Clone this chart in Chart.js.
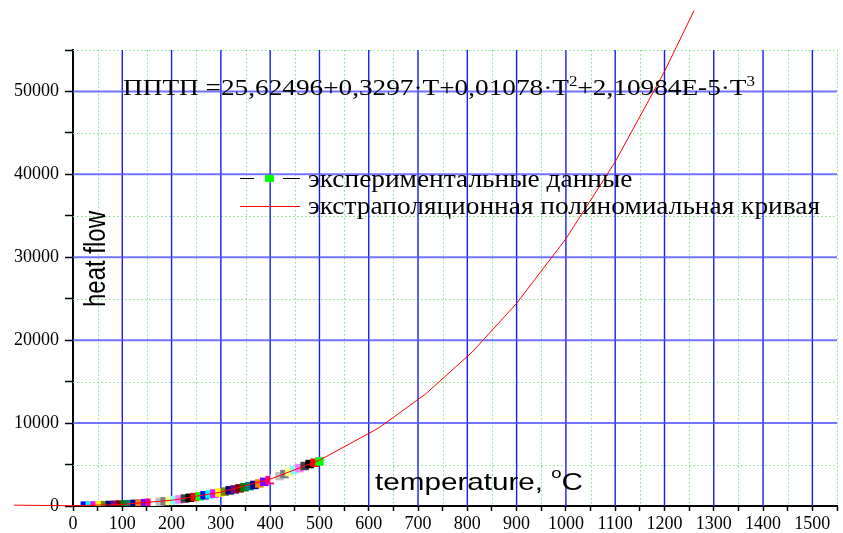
<!DOCTYPE html>
<html>
<head>
<meta charset="utf-8">
<script src="https://cdn.jsdelivr.net/npm/chart.js@4.4.1/dist/chart.umd.min.js"></script>
<style>
  html, body { margin: 0; padding: 0; background: #fff; }
</style>
</head>
<body>
<canvas id="chart" width="843" height="533"></canvas>
<script>
// experimental points
const temps = [24, 34, 44, 54, 65, 75, 85, 95, 105, 115, 125, 135, 146, 156, 166, 176,
  186, 196, 206, 216, 227, 237, 247, 257, 267, 277, 287, 297, 308, 318, 328, 338,
  348, 358, 368, 378, 388, 399, 409, 419, 429, 439, 449, 459, 470, 480, 490, 500];
const heatFlow = [40, 50, 65, 80, 100, 120, 140, 165, 195, 225, 260, 300, 345, 390, 440, 495,
  560, 630, 700, 790, 900, 990, 1080, 1160, 1290, 1400, 1500, 1620, 1740, 1890, 2000, 2130,
  2260, 2400, 2540, 2720, 2920, 3120, 3350, 3600, 3850, 4100, 4330, 4560, 4820, 5060, 5220, 5380];

// extrapolation curve
const curveT = [-120, 0, 100, 200, 300, 400, 500, 620, 715, 810, 900, 1000, 1100, 1200, 1260];
const curveQ = [105, 26, 190, 690, 1665, 3230, 5520, 9400, 13490, 18580, 24440, 32230, 41520, 52400, 59760];

const xMajor = [0, 100, 200, 300, 400, 500, 600, 700, 800, 900, 1000, 1100, 1200, 1300, 1400, 1500];
const yMajor = [0, 10000, 20000, 30000, 40000, 50000];

const legendLabels = ["экспериментальные данные", "экстраполяционная полиномиальная кривая"];
const equationParts = [["ППТП =25,62496+0,3297·T+0,01078·T", false], ["2", true],
  ["+2,10984E-5·T", false], ["3", true]];
const xTitleParts = [["temperature, ", false], ["o", true], ["C", false]];
const yTitle = "heat flow";

// Origin style colour increment
const cycle = ["#000000", "#ff0000", "#00ff00", "#0000ff", "#00ffff", "#ff00ff", "#ffff00", "#808000",
  "#000080", "#800080", "#800000", "#008000", "#008080", "#0000a0", "#ff8000", "#8000ff",
  "#ff0080", "#ffffff", "#c0c0c0", "#808080", "#ffff80", "#80ffff", "#ff80ff", "#404040"];
const pointColors = temps.map((t, i) => cycle[(i + 3) % cycle.length]);

const SERIF = "'Liberation Serif', 'Times New Roman', serif";
const SANS = "'Liberation Sans', Arial, sans-serif";

function drawParts(ctx, parts, x, base, width, size, supSize, rise, family) {
  ctx.save();
  let total = 0;
  parts.forEach(p => {
    ctx.font = (p[1] ? supSize : size) + "px " + family;
    total += ctx.measureText(p[0]).width;
  });
  ctx.translate(x, base);
  ctx.scale(width / total, 1);
  let cx = 0;
  ctx.fillStyle = "#000";
  ctx.textBaseline = "alphabetic";
  ctx.textAlign = "left";
  parts.forEach(p => {
    ctx.font = (p[1] ? supSize : size) + "px " + family;
    ctx.fillText(p[0], cx, p[1] ? -rise : 0);
    cx += ctx.measureText(p[0]).width;
  });
  ctx.restore();
}

const gridPlugin = {
  id: "grid",
  beforeDatasetsDraw(chart) {
    const { ctx, chartArea: a, scales: { x, y } } = chart;
    ctx.save();
    ctx.lineWidth = 1;
    ctx.strokeStyle = "#7fe07f";
    ctx.setLineDash([1.5, 2.5]);
    x.ticks.forEach(t => {
      if (xMajor.includes(t.value)) return;
      const px = Math.round(x.getPixelForValue(t.value)) + 0.5;
      ctx.beginPath(); ctx.moveTo(px, a.top); ctx.lineTo(px, a.bottom); ctx.stroke();
    });
    y.ticks.forEach(t => {
      if (yMajor.includes(t.value)) return;
      const py = Math.round(y.getPixelForValue(t.value)) + 0.5;
      ctx.beginPath(); ctx.moveTo(a.left, py); ctx.lineTo(a.right, py); ctx.stroke();
    });
    ctx.setLineDash([]);
    ctx.strokeStyle = "#1a1aff";
    ctx.lineWidth = 1.4;
    xMajor.forEach(v => {
      if (v === 0) return;
      const px = x.getPixelForValue(v);
      ctx.beginPath(); ctx.moveTo(px, a.top); ctx.lineTo(px, a.bottom); ctx.stroke();
    });
    ctx.strokeStyle = "rgba(80,80,255,0.8)";
    ctx.lineWidth = 2;
    yMajor.forEach(v => {
      if (v === 0) return;
      const py = y.getPixelForValue(v);
      ctx.beginPath(); ctx.moveTo(a.left, py); ctx.lineTo(a.right, py); ctx.stroke();
    });
    ctx.restore();
  }
};

const textPlugin = {
  id: "texts",
  afterDraw(chart) {
    const ctx = chart.ctx;
    // equation
    drawParts(ctx, equationParts, 123, 94.5, 632, 22.5, 14, 9, SERIF);

    // legend
    ctx.save();
    ctx.lineWidth = 1.2;
    ctx.strokeStyle = "#000";
    ctx.beginPath(); ctx.moveTo(240, 178.5); ctx.lineTo(254, 178.5);
    ctx.moveTo(283, 178.5); ctx.lineTo(300, 178.5); ctx.stroke();
    ctx.fillStyle = "#00ff00";
    ctx.fillRect(265, 175, 9, 7);
    ctx.strokeStyle = "#ff0000";
    ctx.lineWidth = 1;
    ctx.beginPath(); ctx.moveTo(240, 206.5); ctx.lineTo(300, 206.5); ctx.stroke();
    ctx.font = "25px " + SERIF;
    const w2 = ctx.measureText(legendLabels[1]).width;
    const w1 = ctx.measureText(legendLabels[0]).width;
    ctx.restore();
    const sx = 512 / w2;
    drawParts(ctx, [[legendLabels[0], false]], 308, 187, w1 * sx, 25, 25, 0, SERIF);
    drawParts(ctx, [[legendLabels[1], false]], 308, 213.5, 512, 25, 25, 0, SERIF);

    // axis titles inside the plot
    drawParts(ctx, xTitleParts, 375, 490, 208, 24, 15, 12, SANS);

    ctx.save();
    ctx.translate(105, 259);
    ctx.rotate(-Math.PI / 2);
    ctx.scale(1, 1.2);
    ctx.font = "24px " + SANS;
    ctx.fillStyle = "#000";
    ctx.textAlign = "center";
    ctx.textBaseline = "alphabetic";
    ctx.fillText(yTitle, 0, 0);
    ctx.restore();
  }
};

new Chart(document.getElementById("chart"), {
  type: "line",
  data: {
    datasets: [
      {
        label: legendLabels[1],
        data: curveT.map((t, i) => ({ x: t, y: curveQ[i] })),
        borderColor: "#ff0000",
        borderWidth: 1,
        pointRadius: 0,
        tension: 0,
        clip: false,
        order: 0
      },
      {
        label: legendLabels[0],
        data: temps.map((t, i) => ({ x: t, y: heatFlow[i] })),
        showLine: false,
        pointStyle: "rect",
        pointRadius: 6,
        pointBackgroundColor: pointColors,
        pointBorderColor: pointColors,
        pointBorderWidth: 0,
        order: 1
      }
    ]
  },
  options: {
    responsive: false,
    animation: false,
    layout: { padding: { top: 50, left: 0, right: 0, bottom: 0 } },
    plugins: { legend: { display: false }, tooltip: { enabled: false } },
    scales: {
      x: {
        type: "linear",
        min: 0,
        max: 1550,
        afterFit: s => { s.height = 27; },
        ticks: {
          stepSize: 50,
          autoSkip: false,
          maxRotation: 0,
          padding: 2,
          color: "#000",
          font: { family: SERIF, size: 18 },
          callback: v => (xMajor.includes(v) ? String(v) : "")
        },
        grid: { drawOnChartArea: false, drawTicks: true, tickLength: 5, tickColor: "#000", tickWidth: 1.5 },
        border: { color: "#000", width: 2 }
      },
      y: {
        min: 0,
        max: 55000,
        afterFit: s => { s.width = 73; },
        ticks: {
          stepSize: 5000,
          autoSkip: false,
          padding: 6,
          color: "#000",
          font: { family: SERIF, size: 18 },
          callback: v => (yMajor.includes(v) ? String(v) : "")
        },
        grid: { drawOnChartArea: false, drawTicks: true, tickLength: 8, tickColor: "#000", tickWidth: 1.5 },
        border: { color: "#000", width: 2 }
      }
    }
  },
  plugins: [gridPlugin, textPlugin]
});
</script>
</body>
</html>
